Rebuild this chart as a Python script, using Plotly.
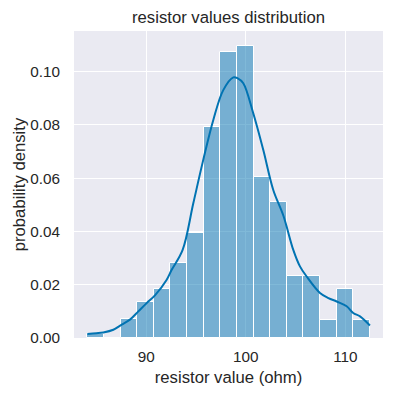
import numpy as np
import plotly.graph_objects as go

# histogram (density)
bin_start = 84.09
bin_width = 1.669
densities = [0.0015, 0.0, 0.0070, 0.0137, 0.0185, 0.0280, 0.0394, 0.0792, 0.1075,
             0.1098, 0.0605, 0.0511, 0.0231, 0.0231, 0.0069, 0.0185, 0.0069]
bin_centers = [bin_start + bin_width * (i + 0.5) for i in range(len(densities))]

# KDE curve
kde_x = [84.09, 85.0, 85.69, 86.70, 87.54, 88.37, 89.21, 90.05, 90.88, 92.06, 92.56,
         93.66, 94.73, 95.73, 96.74, 97.74, 98.75, 99.2, 99.75, 100.75, 101.76, 102.76,
         103.77, 104.77, 105.44, 106.11, 107.45, 108.3, 109.13, 110.13, 110.79, 111.47, 112.47]
kde_y = [0.0015, 0.0018, 0.0021, 0.0031, 0.0050, 0.0069, 0.0100, 0.0131, 0.0160, 0.0219, 0.0256,
         0.0331, 0.0506, 0.0669, 0.0819, 0.0931, 0.0979, 0.0975, 0.0957, 0.0844, 0.0706, 0.0556,
         0.0460, 0.0331, 0.0269, 0.0231, 0.0169, 0.0150, 0.0137, 0.0119, 0.0094, 0.0081, 0.0047]

x_ticks = [90, 100, 110]
y_ticks = [0.00, 0.02, 0.04, 0.06, 0.08, 0.10]
y_tick_labels = ["0.00", "0.02", "0.04", "0.06", "0.08", "0.10"]

font_family = "Liberation Sans, Arial, sans-serif"
text_color = "#262626"

fig = go.Figure()
fig.add_trace(go.Bar(
    x=bin_centers, y=densities, width=[bin_width] * len(densities),
    marker=dict(color="rgba(1,115,178,0.5)", line=dict(color="white", width=1)),
    showlegend=False, hoverinfo="skip",
))
fig.add_trace(go.Scatter(
    x=kde_x, y=kde_y, mode="lines", line=dict(color="#0173B2", width=2, shape="spline", smoothing=1.0),
    showlegend=False,
))

fig.update_layout(
    width=393, height=396,
    margin=dict(l=74, r=10, t=31, b=58, autoexpand=False),
    paper_bgcolor="white", plot_bgcolor="#EAEAF2",
    font=dict(family=font_family, color=text_color, size=15.3),
    bargap=0,
    title=dict(text="resistor values distribution", x=0.5, xref="paper", xanchor="center",
               y=1 - 17 / 396, yref="container", yanchor="middle", font=dict(size=16.7, color=text_color)),
)
fig.update_xaxes(
    range=[82.75, 113.78], tickvals=x_ticks, ticktext=[str(v) for v in x_ticks],
    showgrid=True, gridcolor="white", gridwidth=1.3, zeroline=False, showline=False,
    ticks="outside", ticklen=5, tickcolor="rgba(0,0,0,0)", automargin=False,
    title=dict(text="resistor value (ohm)", font=dict(size=16.7), standoff=6),
    tickfont=dict(size=15.3),
)
fig.update_yaxes(
    range=[0, 0.1153], tickvals=y_ticks, ticktext=y_tick_labels,
    showgrid=True, gridcolor="white", gridwidth=1.3, zeroline=False, showline=False,
    ticks="outside", ticklen=10, tickcolor="rgba(0,0,0,0)", automargin=False,
    title=dict(text="probability density", font=dict(size=16.7), standoff=0),
    tickfont=dict(size=15.3),
)

fig.write_html("out.html", config={"displayModeBar": False},
               post_script="document.body.style.margin='0';document.body.style.overflow='hidden';")
